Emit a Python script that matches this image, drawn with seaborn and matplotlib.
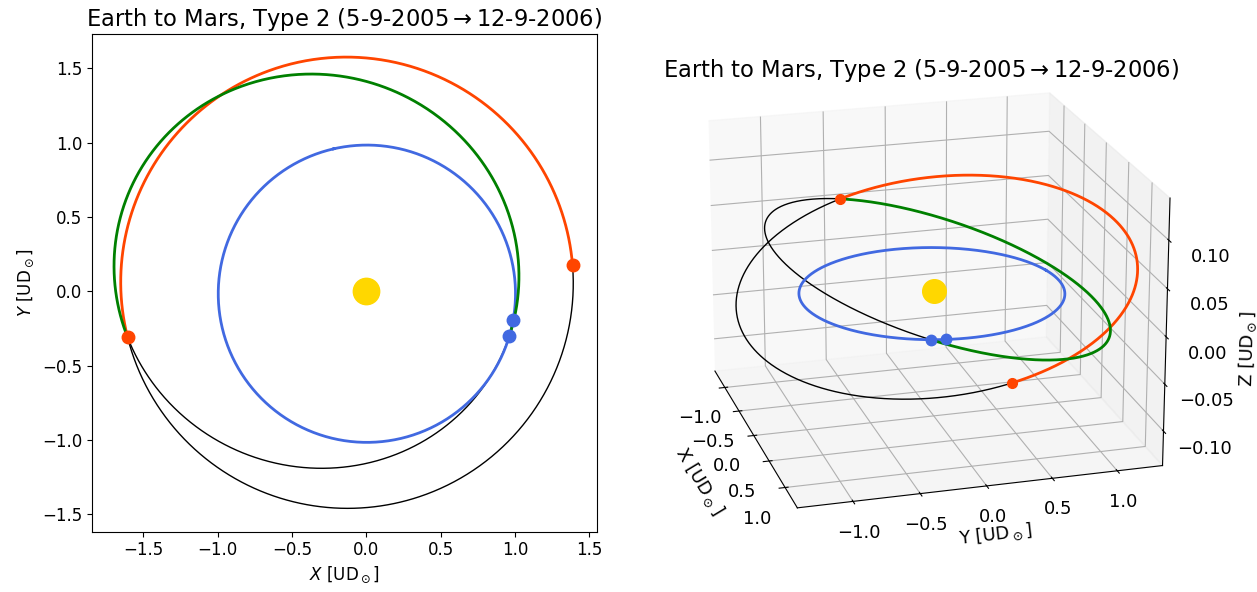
import numpy as np
import pandas as pd
import matplotlib
matplotlib.use("Agg")
import matplotlib.pyplot as plt
import seaborn as sns

plt.rcParams['font.family'] = ['DejaVu Sans']
plt.rcParams['font.size'] = 12
plt.rcParams['mathtext.fontset'] = 'dejavusans'

title = "Earth to Mars, Type 2 (5-9-2005$\\rightarrow$12-9-2006)"

# orbital elements: a [UD], e, i [deg], Omega [deg], omega [deg]
earth_elem = [1.00000, 0.01671, 0.0, 0.0, 102.94]
mars_elem = [1.52371, 0.09339, 1.8497, 49.5595, 286.50]
transfer_elem = [1.3688, 0.2641, 2.434, 162.45, 175.55]

# true anomalies [deg] at departure / arrival
earth_nu = [239.51, 246.04]
mars_nu = [31.19, 214.77]
transfer_nu = [4.45, 212.85]

colors = {"earth": "royalblue", "mars": "orangered", "transfer": "green", "sun": "gold"}


def orbit_xyz(elem, nu_deg):
    a, e, inc, Om, w = elem
    nu = np.radians(np.asarray(nu_deg, dtype=float))
    r = a * (1 - e ** 2) / (1 + e * np.cos(nu))
    u = np.radians(w) + nu
    i = np.radians(inc)
    O = np.radians(Om)
    x = r * (np.cos(O) * np.cos(u) - np.sin(O) * np.sin(u) * np.cos(i))
    y = r * (np.sin(O) * np.cos(u) + np.cos(O) * np.sin(u) * np.cos(i))
    z = r * np.sin(u) * np.sin(i)
    return x, y, z


N = 600
earth_full = orbit_xyz(earth_elem, np.linspace(0, 360, N))
mars_arc = orbit_xyz(mars_elem, np.linspace(mars_nu[0], mars_nu[1], N))
mars_rest = orbit_xyz(mars_elem, np.linspace(mars_nu[1], mars_nu[0] + 360, N))
tr_arc = orbit_xyz(transfer_elem, np.linspace(transfer_nu[0], transfer_nu[1], N))
tr_rest = orbit_xyz(transfer_elem, np.linspace(transfer_nu[1], transfer_nu[0] + 360, N))
earth_pts = orbit_xyz(earth_elem, earth_nu)
mars_pts = orbit_xyz(mars_elem, mars_nu)

fig = plt.figure(figsize=(12.57, 5.92), dpi=100)

# ---------------- 2D ----------------
ax = fig.add_axes([0.0724, 0.1019, 0.4028, 0.8402])

def line2d(seg, color, lw):
    df = pd.DataFrame({"x": seg[0], "y": seg[1]})
    sns.lineplot(data=df, x="x", y="y", sort=False, estimator=None, color=color,
                 lw=lw, ax=ax)

line2d(tr_rest, "black", 1.0)
line2d(mars_rest, "black", 1.0)
line2d(earth_full, colors["earth"], 2.0)
line2d(mars_arc, colors["mars"], 2.0)
line2d(tr_arc, colors["transfer"], 2.0)
ax.plot([0], [0], "o", color=colors["sun"], ms=19)
ax.plot(earth_pts[0], earth_pts[1], "o", color=colors["earth"], ms=9, ls="none")
ax.plot(mars_pts[0], mars_pts[1], "o", color=colors["mars"], ms=9, ls="none")
ax.set_xlim(-1.847, 1.549)
ax.set_ylim(-1.617, 1.729)
ax.set_aspect("equal")
ax.set_xticks([-1.5, -1.0, -0.5, 0.0, 0.5, 1.0, 1.5])
ax.set_yticks([-1.5, -1.0, -0.5, 0.0, 0.5, 1.0, 1.5])
ax.set_xlabel("$X$ [UD$_\\odot$]")
ax.set_ylabel("$Y$ [UD$_\\odot$]")
ax.set_title(title, fontsize=16.3)

# ---------------- 3D ----------------
ax3 = fig.add_axes([0.4877, 0.017, 0.4925, 0.963], projection="3d")
ax3.plot(*tr_rest, color="black", lw=1.0)
ax3.plot(*mars_rest, color="black", lw=1.0)
ax3.plot(*earth_full, color=colors["earth"], lw=2.0)
ax3.plot(*mars_arc, color=colors["mars"], lw=2.0)
ax3.plot(*tr_arc, color=colors["transfer"], lw=2.0)
ax3.plot([0], [0], [0], "o", color=colors["sun"], ms=17)
ax3.plot(*earth_pts, "o", color=colors["earth"], ms=7.5, ls="none")
ax3.plot(*mars_pts, "o", color=colors["mars"], ms=7, ls="none")
ax3.set_xlim(-1.36, 1.37)
ax3.set_ylim(-1.41, 1.352)
ax3.set_zlim(-0.137, 0.143)
ax3.set_xticks([-1.0, -0.5, 0.0, 0.5, 1.0])
ax3.set_yticks([-1.0, -0.5, 0.0, 0.5, 1.0])
ax3.set_zticks([-0.10, -0.05, 0.0, 0.05, 0.10])
ax3.tick_params(labelsize=13)
ax3.tick_params(axis="x", pad=8)
ax3.tick_params(axis="z", pad=10)
ax3.view_init(elev=20, azim=-16)
ax3.set_xlabel("X [UD$_\\odot$]", fontsize=13, labelpad=12)
ax3.set_ylabel("Y [UD$_\\odot$]", fontsize=13)
ax3.set_zlabel("Z [UD$_\\odot$]", fontsize=13, labelpad=14)
ax3.set_title(title, fontsize=16.3, x=0.498, y=0.9626, pad=0)

fig.savefig("out.png", dpi=100)
